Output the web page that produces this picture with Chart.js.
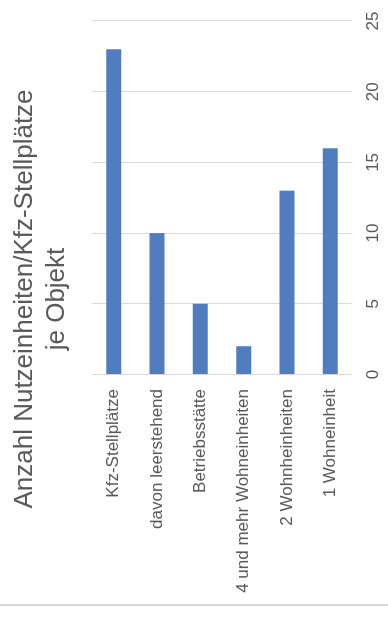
<!DOCTYPE html>
<html>
<head>
<meta charset="utf-8">
<script src="https://cdn.jsdelivr.net/npm/chart.js@4/dist/chart.umd.min.js"></script>
<style>
html,body{margin:0;padding:0;background:#fff;overflow:hidden;width:388px;height:619px;}
#frame{position:absolute;left:0;top:0;width:619px;height:388px;transform-origin:0 0;transform:translateY(619px) rotate(-90deg);}
#edge{position:absolute;left:0;top:604px;width:388px;height:2px;background:#d9d9d9;}
</style>
</head>
<body>
<div id="frame"><canvas id="c" width="619" height="388"></canvas></div>
<div id="edge"></div>
<script>
const categories = ['Kfz-Stellplätze','davon leerstehend','Betriebsstätte','4 und mehr Wohneinheiten','2 Wohnheinheiten','1 Wohneinheit'];
const values = [23, 10, 5, 2, 13, 16];
const titleLines = ['Anzahl Nutzeinheiten/Kfz-Stellplätze','je Objekt'];
const valueTicks = [0, 5, 10, 15, 20, 25];

const FONT = "'Liberation Sans', Arial, sans-serif";
const unclipLabels = {
  id: 'unclipLabels',
  afterLayout(chart) { chart.scales.y.left = 0; }
};
new Chart(document.getElementById('c'), {
  type: 'bar',
  data: {
    labels: categories,
    datasets: [{
      data: values,
      backgroundColor: '#507cc0',
      borderWidth: 0,
      barPercentage: 0.346,
      categoryPercentage: 1
    }]
  },
  plugins: [unclipLabels],
  options: {
    indexAxis: 'y',
    responsive: false,
    devicePixelRatio: 1,
    animation: false,
    layout: { padding: { left: 42, right: 21, top: 0, bottom: 0 } },
    plugins: {
      legend: { display: false },
      tooltip: { enabled: false },
      title: {
        display: true,
        text: titleLines,
        color: '#595959',
        font: { family: FONT, size: 26, weight: 'normal', lineHeight: 1.23 },
        padding: { top: 9, bottom: 19 }
      }
    },
    scales: {
      x: {
        min: valueTicks[0],
        max: valueTicks[valueTicks.length - 1],
        afterBuildTicks: (s) => { s.ticks = valueTicks.map(v => ({ value: v })); },
        afterFit: (s) => { s.height = 36; },
        grid: { color: '#d9d9d9', lineWidth: 1, drawTicks: false },
        border: { display: false },
        ticks: { color: '#595959', font: { family: FONT, size: 17 }, padding: 11, maxRotation: 0 }
      },
      y: {
        afterFit: (s) => { s.width = 202.5; },
        grid: { display: false, drawTicks: false },
        border: { display: false },
        ticks: { color: '#595959', font: { family: FONT, size: 17 }, padding: 14.5, autoSkip: false }
      }
    }
  }
});
</script>
</body>
</html>
